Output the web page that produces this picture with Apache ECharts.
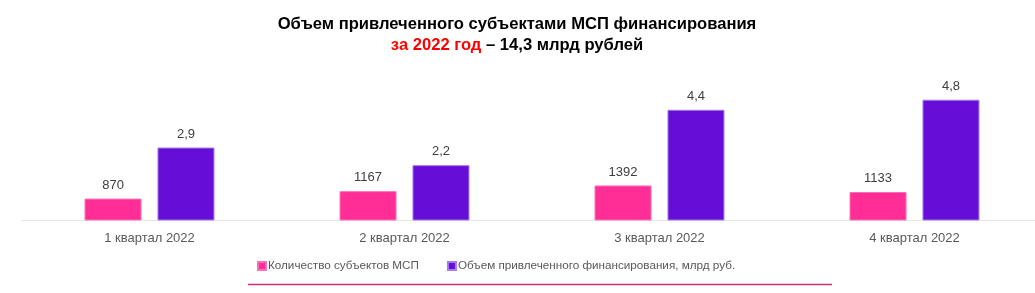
<!DOCTYPE html>
<html><head><meta charset="utf-8">
<script src="https://cdn.jsdelivr.net/npm/echarts@6/dist/echarts.min.js"></script>
<style>html,body{margin:0;padding:0;background:#fff;overflow:hidden;width:1035px;height:293px}#c{width:1042px;height:293px}</style>
</head><body><div id="c"></div>
<script>
const categories = ['1 квартал 2022', '2 квартал 2022', '3 квартал 2022', '4 квартал 2022'];
const smeCount = [870, 1167, 1392, 1133];
const financing = [2.9, 2.2, 4.4, 4.8];
const seriesNames = ['Количество субъектов МСП', 'Объем привлеченного финансирования, млрд руб.'];

const chart = echarts.init(document.getElementById('c'));
const font = '"Liberation Sans", Arial, sans-serif';
chart.setOption({
  animation: false,
  textStyle: { fontFamily: font },
  title: {
    left: 512, top: 9, textAlign: 'center',
    text: 'Объем привлеченного субъектами МСП финансирования\n{r|за 2022 год} {b|– 14,3 млрд рублей}',
    textStyle: {
      fontFamily: font, fontSize: 16.6, fontWeight: 'bold', color: '#000', lineHeight: 21,
      rich: {
        r: { fontFamily: font, fontSize: 16.6, fontWeight: 'bold', color: '#FF0000', lineHeight: 21 },
        b: { fontFamily: font, fontSize: 16.6, fontWeight: 'bold', color: '#000', lineHeight: 21 }
      }
    }
  },
  legend: {
    top: 260, left: 257, padding: 0,
    itemWidth: 8, itemHeight: 8, itemGap: 28,
    icon: 'rect',
    textStyle: { fontFamily: font, fontSize: 11.7, color: '#595959', padding: [0, 0, 0, -3] },
    data: seriesNames
  },
  grid: { left: 22, right: 0, top: 69.5, height: 151 },
  xAxis: {
    type: 'category', data: categories,
    axisLine: { lineStyle: { color: '#E6E6E6', width: 1 } },
    axisTick: { show: false },
    axisLabel: { fontFamily: font, fontSize: 13, color: '#595959', margin: 11 }
  },
  yAxis: [
    { type: 'value', min: 0, max: 6000, show: false, splitLine: { show: false } },
    { type: 'value', min: 0, max: 6, show: false, splitLine: { show: false } }
  ],
  series: [
    {
      name: seriesNames[0], type: 'bar', yAxisIndex: 0, data: smeCount,
      barWidth: 57, barGap: '28%',
      itemStyle: { color: '#FF2E96', borderColor: '#FF6FB5', borderWidth: 1 },
      label: { show: true, position: 'top', distance: 7, fontFamily: font, fontSize: 13, color: '#404040' }
    },
    {
      name: seriesNames[1], type: 'bar', yAxisIndex: 1, data: financing,
      barWidth: 57, barGap: '28%',
      itemStyle: { color: '#660ED8', borderColor: '#A67BEF', borderWidth: 1 },
      label: { show: true, position: 'top', distance: 7, fontFamily: font, fontSize: 13, color: '#404040',
        formatter: p => String(p.value).replace('.', ',') }
    }
  ],
  graphic: [{
    type: 'line', shape: { x1: 248, y1: 284.5, x2: 832, y2: 284.5 },
    style: { stroke: '#C2326F', lineWidth: 1.5 }
  }]
});
</script></body></html>
